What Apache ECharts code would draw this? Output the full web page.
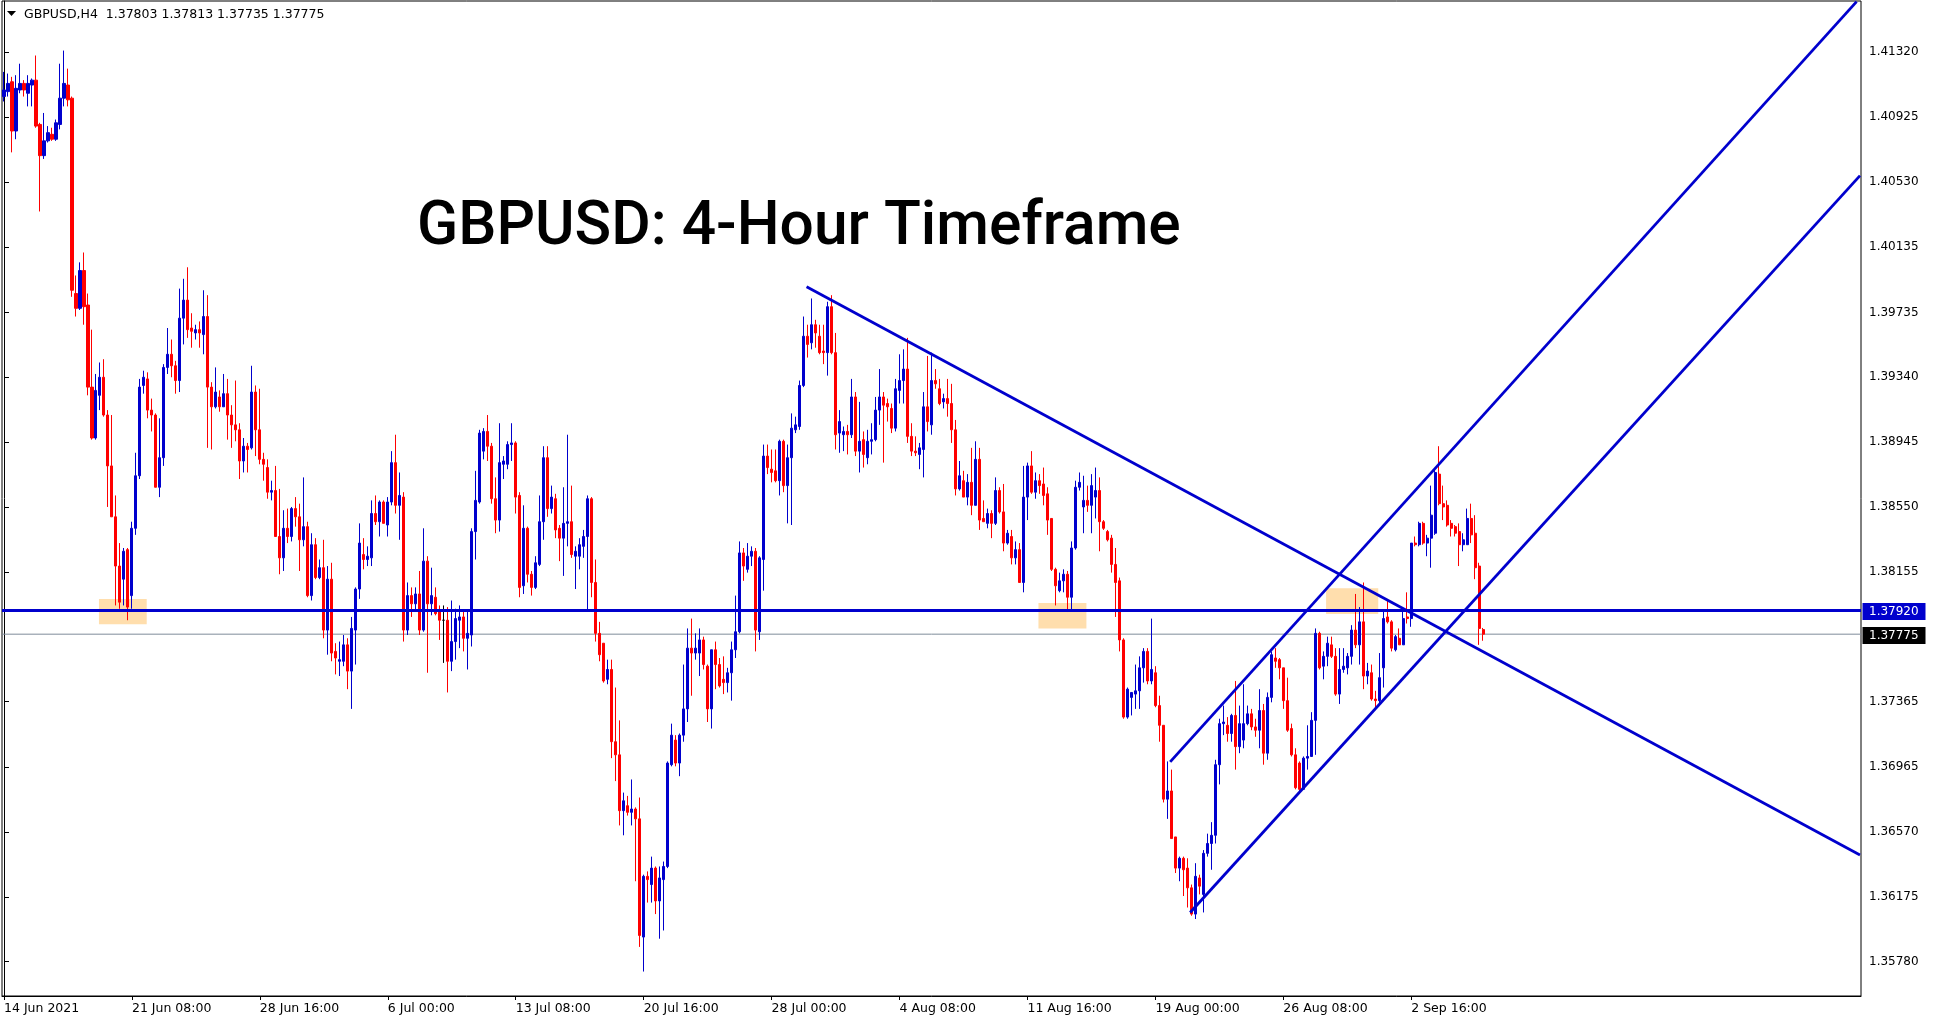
<!DOCTYPE html>
<html><head><meta charset="utf-8">
<script src="https://cdn.jsdelivr.net/npm/echarts@6/dist/echarts.min.js"></script>
<style>html,body{margin:0;padding:0;background:#fff;overflow:hidden}#c{width:1933px;height:1023px}</style>
</head><body><div id="c"></div>
<script>
// ---- candle data: [open, close, low, high], H4 bars, one array per trading week ----
const week1 = [[1.4105,1.4109,1.4102,1.4120],[1.4108,1.4113,1.4105,1.4119],[1.4114,1.4084,1.4071,1.4117],[1.4084,1.4110,1.4079,1.4118],[1.4109,1.4113,1.4107,1.4125],[1.4113,1.4109,1.4105,1.4115],
[1.4107,1.4113,1.4099,1.4118],[1.4112,1.4115,1.4099,1.4116],[1.4115,1.4087,1.4086,1.4130],[1.4088,1.4069,1.4035,1.4089],[1.4069,1.4078,1.4067,1.4095],[1.4078,1.4083,1.4077,1.4087],
[1.4082,1.4079,1.4078,1.4086],[1.4079,1.4089,1.4078,1.4091],[1.4088,1.4104,1.4085,1.4125],[1.4104,1.4113,1.4099,1.4133],[1.4112,1.4103,1.4099,1.4122],[1.4104,1.3987,1.3983,1.4105],
[1.3985,1.3976,1.3971,1.3996],[1.3976,1.3999,1.3975,1.4004],[1.3999,1.3977,1.3966,1.4010],[1.3978,1.3928,1.3923,1.3985],[1.3928,1.3897,1.3896,1.3963],[1.3897,1.3926,1.3896,1.3936],
[1.3923,1.3934,1.3914,1.3943],[1.3934,1.3911,1.3910,1.3945],[1.3911,1.3880,1.3855,1.3914],[1.3880,1.3849,1.3849,1.3911],[1.3849,1.3819,1.3795,1.3862],[1.3819,1.3797,1.3793,1.3833]];
const week2 = [[1.3811,1.3828,1.3795,1.3830],[1.3829,1.3794,1.3786,1.3830],[1.3801,1.3842,1.3793,1.3846],[1.3842,1.3874,1.3838,1.3888],[1.3874,1.3928,1.3872,1.3933],[1.3929,1.3934,1.3924,1.3938],
[1.3933,1.3914,1.3909,1.3937],[1.3914,1.3911,1.3901,1.3921],[1.3911,1.3867,1.3867,1.3912],[1.3867,1.3885,1.3861,1.3909],[1.3885,1.3940,1.3880,1.3942],[1.3940,1.3948,1.3936,1.3964],
[1.3948,1.3941,1.3934,1.3957],[1.3941,1.3932,1.3924,1.3944],[1.3932,1.3970,1.3925,1.3988],[1.3970,1.3981,1.3954,1.3994],[1.3981,1.3963,1.3958,1.4001],[1.3964,1.3962,1.3952,1.3973],
[1.3961,1.3963,1.3957,1.3966],[1.3963,1.3961,1.3952,1.3968],[1.3960,1.3971,1.3948,1.3987],[1.3971,1.3928,1.3891,1.3984],[1.3928,1.3916,1.3890,1.3931],[1.3916,1.3925,1.3915,1.3940],
[1.3922,1.3916,1.3913,1.3926],[1.3916,1.3924,1.3916,1.3936],[1.3924,1.3911,1.3896,1.3933],[1.3911,1.3905,1.3891,1.3917],[1.3905,1.3902,1.3895,1.3932],[1.3902,1.3883,1.3872,1.3906]];
const week3 = [[1.3883,1.3892,1.3876,1.3897],[1.3892,1.3890,1.3876,1.3894],[1.3891,1.3925,1.3890,1.3941],[1.3925,1.3902,1.3886,1.3929],[1.3902,1.3884,1.3881,1.3927],[1.3884,1.3881,1.3871,1.3888],
[1.3879,1.3864,1.3860,1.3884],[1.3864,1.3865,1.3859,1.3871],[1.3865,1.3837,1.3837,1.3880],[1.3837,1.3824,1.3814,1.3866],[1.3824,1.3842,1.3816,1.3853],[1.3842,1.3837,1.3833,1.3854],
[1.3837,1.3854,1.3834,1.3855],[1.3854,1.3849,1.3843,1.3861],[1.3849,1.3835,1.3816,1.3857],[1.3835,1.3843,1.3831,1.3873],[1.3843,1.3801,1.3800,1.3846],[1.3801,1.3832,1.3798,1.3839],
[1.3832,1.3812,1.3811,1.3836],[1.3812,1.3818,1.3811,1.3823],[1.3818,1.3780,1.3775,1.3835],[1.3780,1.3811,1.3765,1.3819],[1.3811,1.3766,1.3761,1.3821],[1.3767,1.3763,1.3753,1.3772],
[1.3761,1.3762,1.3752,1.3773],[1.3761,1.3771,1.3758,1.3777],[1.3771,1.3755,1.3744,1.3775],[1.3755,1.3781,1.3732,1.3788],[1.3780,1.3805,1.3759,1.3806],[1.3805,1.3833,1.3799,1.3845]];
const week4 = [[1.3826,1.3823,1.3817,1.3836],[1.3823,1.3825,1.3819,1.3831],[1.3824,1.3851,1.3819,1.3859],[1.3851,1.3846,1.3844,1.3862],[1.3846,1.3858,1.3837,1.3859],[1.3858,1.3845,1.3845,1.3859],
[1.3844,1.3858,1.3837,1.3861],[1.3858,1.3882,1.3856,1.3889],[1.3882,1.3856,1.3851,1.3899],[1.3856,1.3862,1.3835,1.3876],[1.3861,1.3780,1.3773,1.3864],[1.3780,1.3801,1.3777,1.3809],
[1.3801,1.3796,1.3788,1.3806],[1.3796,1.3802,1.3792,1.3806],[1.3802,1.3780,1.3777,1.3816],[1.3780,1.3822,1.3779,1.3842],[1.3822,1.3796,1.3754,1.3825],[1.3796,1.3801,1.3789,1.3818],
[1.3800,1.3790,1.3789,1.3806],[1.3791,1.3786,1.3774,1.3795],[1.3786,1.3786,1.3760,1.3795],[1.3786,1.3761,1.3742,1.3794],[1.3761,1.3773,1.3755,1.3798],[1.3773,1.3787,1.3762,1.3793],
[1.3786,1.3788,1.3769,1.3795],[1.3788,1.3775,1.3767,1.3791],[1.3775,1.3778,1.3756,1.3791],[1.3777,1.3840,1.3770,1.3842],[1.3840,1.3859,1.3823,1.3877],[1.3858,1.3900,1.3857,1.3902]];
const week5 = [[1.3889,1.3901,1.3884,1.3903],[1.3901,1.3892,1.3883,1.3911],[1.3892,1.3860,1.3857,1.3894],[1.3860,1.3847,1.3839,1.3873],[1.3847,1.3882,1.3840,1.3906],[1.3881,1.3883,1.3872,1.3886],
[1.3881,1.3893,1.3878,1.3895],[1.3893,1.3894,1.3883,1.3906],[1.3894,1.3861,1.3851,1.3895],[1.3862,1.3806,1.3800,1.3864],[1.3807,1.3842,1.3802,1.3856],[1.3842,1.3814,1.3809,1.3843],
[1.3814,1.3806,1.3801,1.3816],[1.3806,1.3821,1.3805,1.3825],[1.3820,1.3846,1.3819,1.3862],[1.3846,1.3885,1.3835,1.3892],[1.3885,1.3854,1.3849,1.3892],[1.3854,1.3861,1.3851,1.3868],
[1.3860,1.3841,1.3836,1.3863],[1.3842,1.3836,1.3822,1.3844],[1.3836,1.3845,1.3813,1.3867],[1.3845,1.3846,1.3831,1.3899],[1.3846,1.3826,1.3824,1.3868],[1.3825,1.3828,1.3805,1.3831],
[1.3825,1.3832,1.3817,1.3836],[1.3831,1.3837,1.3824,1.3841],[1.3837,1.3860,1.3792,1.3862],[1.3860,1.3809,1.3800,1.3861],[1.3809,1.3778,1.3773,1.3823],[1.3778,1.3765,1.3761,1.3785]];
const week6 = [[1.3772,1.3749,1.3748,1.3772],[1.3750,1.3756,1.3747,1.3762],[1.3756,1.3712,1.3702,1.3762],[1.3712,1.3704,1.3688,1.3745],[1.3704,1.3670,1.3661,1.3725],[1.3670,1.3676,1.3655,1.3681],
[1.3673,1.3669,1.3667,1.3679],[1.3669,1.3671,1.3661,1.3689],[1.3671,1.3665,1.3627,1.3672],[1.3665,1.3594,1.3587,1.3678],[1.3593,1.3630,1.3572,1.3631],[1.3630,1.3628,1.3614,1.3633],
[1.3625,1.3635,1.3614,1.3642],[1.3635,1.3615,1.3607,1.3636],[1.3615,1.3629,1.3592,1.3636],[1.3628,1.3636,1.3597,1.3639],[1.3636,1.3699,1.3635,1.3700],[1.3698,1.3716,1.3697,1.3723],
[1.3713,1.3699,1.3697,1.3716],[1.3699,1.3716,1.3691,1.3717],[1.3716,1.3732,1.3712,1.3759],[1.3732,1.3769,1.3724,1.3781],[1.3769,1.3766,1.3740,1.3787],[1.3766,1.3769,1.3762,1.3778],
[1.3766,1.3774,1.3752,1.3781],[1.3774,1.3759,1.3756,1.3776],[1.3758,1.3732,1.3724,1.3759],[1.3732,1.3768,1.3720,1.3768],[1.3768,1.3759,1.3744,1.3773],[1.3759,1.3746,1.3745,1.3763]];
const week7 = [[1.3750,1.3748,1.3741,1.3764],[1.3748,1.3754,1.3742,1.3757],[1.3754,1.3768,1.3737,1.3773],[1.3768,1.3779,1.3763,1.3801],[1.3779,1.3827,1.3778,1.3834],[1.3827,1.3819,1.3810,1.3830],
[1.3817,1.3825,1.3815,1.3833],[1.3825,1.3828,1.3819,1.3831],[1.3828,1.3780,1.3767,1.3830],[1.3779,1.3824,1.3774,1.3825],[1.3823,1.3886,1.3804,1.3893],[1.3886,1.3879,1.3875,1.3893],
[1.3878,1.3876,1.3870,1.3890],[1.3877,1.3871,1.3870,1.3890],[1.3871,1.3895,1.3862,1.3896],[1.3895,1.3868,1.3864,1.3896],[1.3868,1.3885,1.3845,1.3893],[1.3885,1.3903,1.3844,1.3912],
[1.3902,1.3905,1.3900,1.3910],[1.3904,1.3929,1.3902,1.3932],[1.3929,1.3959,1.3928,1.3971],[1.3959,1.3954,1.3946,1.3966],[1.3955,1.3966,1.3951,1.3982],[1.3966,1.3961,1.3952,1.3969],
[1.3959,1.3949,1.3948,1.3966],[1.3950,1.3949,1.3942,1.3966],[1.3949,1.3977,1.3935,1.3980],[1.3977,1.3949,1.3948,1.3984],[1.3949,1.3899,1.3890,1.3961],[1.3900,1.3907,1.3888,1.3914]];
const week8 = [[1.3899,1.3901,1.3889,1.3904],[1.3901,1.3899,1.3887,1.3905],[1.3899,1.3922,1.3897,1.3933],[1.3922,1.3889,1.3886,1.3925],[1.3889,1.3895,1.3876,1.3919],[1.3896,1.3887,1.3879,1.3901],
[1.3885,1.3895,1.3881,1.3902],[1.3895,1.3896,1.3887,1.3906],[1.3896,1.3914,1.3895,1.3922],[1.3914,1.3922,1.3905,1.3939],[1.3922,1.3917,1.3882,1.3925],[1.3918,1.3916,1.3907,1.3921],
[1.3915,1.3903,1.3900,1.3918],[1.3903,1.3927,1.3901,1.3933],[1.3926,1.3932,1.3918,1.3948],[1.3932,1.3939,1.3918,1.3951],[1.3939,1.3898,1.3894,1.3958],[1.3898,1.3889,1.3886,1.3906],
[1.3889,1.3888,1.3886,1.3898],[1.3887,1.3891,1.3878,1.3894],[1.3890,1.3916,1.3873,1.3925],[1.3916,1.3907,1.3901,1.3947],[1.3905,1.3932,1.3899,1.3949],[1.3932,1.3930,1.3927,1.3939],
[1.3927,1.3918,1.3917,1.3933],[1.3919,1.3921,1.3915,1.3924],[1.3921,1.3918,1.3910,1.3933],[1.3918,1.3902,1.3894,1.3930],[1.3902,1.3866,1.3862,1.3908],[1.3866,1.3874,1.3865,1.3883]];
const week9 = [[1.3871,1.3861,1.3861,1.3877],[1.3861,1.3870,1.3856,1.3875],[1.3870,1.3856,1.3850,1.3891],[1.3856,1.3884,1.3856,1.3895],[1.3884,1.3847,1.3841,1.3891],[1.3848,1.3846,1.3846,1.3859],
[1.3845,1.3851,1.3842,1.3854],[1.3851,1.3845,1.3836,1.3853],[1.3845,1.3865,1.3844,1.3873],[1.3865,1.3852,1.3851,1.3867],[1.3852,1.3833,1.3828,1.3869],[1.3833,1.3839,1.3832,1.3841],
[1.3837,1.3824,1.3820,1.3841],[1.3824,1.3829,1.3820,1.3834],[1.3829,1.3809,1.3809,1.3833],[1.3809,1.3861,1.3803,1.3880],[1.3861,1.3880,1.3847,1.3882],[1.3880,1.3864,1.3863,1.3889],
[1.3864,1.3871,1.3860,1.3876],[1.3871,1.3868,1.3863,1.3875],[1.3869,1.3862,1.3856,1.3879],[1.3863,1.3847,1.3838,1.3867],[1.3848,1.3817,1.3816,1.3848],[1.3817,1.3807,1.3795,1.3818],
[1.3804,1.3810,1.3803,1.3815],[1.3810,1.3814,1.3803,1.3817],[1.3814,1.3800,1.3791,1.3816],[1.3800,1.3830,1.3792,1.3834],[1.3830,1.3867,1.3829,1.3871],[1.3867,1.3870,1.3865,1.3876]];
const week10 = [[1.3855,1.3859,1.3839,1.3874],[1.3859,1.3856,1.3852,1.3868],[1.3856,1.3868,1.3839,1.3875],[1.3861,1.3865,1.3848,1.3879],[1.3865,1.3846,1.3828,1.3873],[1.3846,1.3842,1.3841,1.3847],
[1.3840,1.3835,1.3834,1.3841],[1.3836,1.3820,1.3815,1.3838],[1.3820,1.3809,1.3788,1.3830],[1.3810,1.3774,1.3767,1.3812],[1.3774,1.3727,1.3726,1.3775],[1.3727,1.3744,1.3726,1.3745],
[1.3739,1.3742,1.3728,1.3742],[1.3741,1.3743,1.3732,1.3759],[1.3743,1.3757,1.3732,1.3764],[1.3757,1.3767,1.3748,1.3769],[1.3767,1.3749,1.3747,1.3769],[1.3749,1.3756,1.3747,1.3787],
[1.3754,1.3734,1.3733,1.3758],[1.3734,1.3722,1.3712,1.3740],[1.3722,1.3677,1.3675,1.3722],[1.3677,1.3682,1.3665,1.3700],[1.3682,1.3653,1.3653,1.3695],[1.3654,1.3635,1.3632,1.3654],
[1.3635,1.3641,1.3627,1.3642],[1.3641,1.3634,1.3618,1.3642],[1.3635,1.3623,1.3611,1.3641],[1.3623,1.3607,1.3606,1.3625],[1.3607,1.3630,1.3604,1.3638],[1.3629,1.3624,1.3619,1.3631]];
const week11 = [[1.3619,1.3644,1.3608,1.3646],[1.3644,1.3650,1.3642,1.3656],[1.3650,1.3655,1.3634,1.3663],[1.3655,1.3698,1.3650,1.3701],[1.3698,1.3723,1.3686,1.3726],[1.3723,1.3724,1.3716,1.3734],
[1.3722,1.3717,1.3712,1.3727],[1.3717,1.3728,1.3712,1.3729],[1.3728,1.3709,1.3695,1.3749],[1.3709,1.3723,1.3705,1.3734],[1.3713,1.3723,1.3708,1.3747],[1.3723,1.3729,1.3722,1.3734],
[1.3729,1.3721,1.3719,1.3732],[1.3721,1.3719,1.3715,1.3726],[1.3719,1.3731,1.3708,1.3744],[1.3731,1.3705,1.3698,1.3735],[1.3705,1.3739,1.3701,1.3742],[1.3739,1.3765,1.3736,1.3767],
[1.3763,1.3761,1.3757,1.3769],[1.3762,1.3757,1.3750,1.3763],[1.3757,1.3737,1.3732,1.3757],[1.3737,1.3719,1.3718,1.3751],[1.3720,1.3704,1.3703,1.3723],[1.3704,1.3684,1.3683,1.3708],
[1.3699,1.3683,1.3682,1.3700],[1.3683,1.3702,1.3683,1.3703],[1.3702,1.3703,1.3695,1.3722],[1.3703,1.3725,1.3703,1.3730],[1.3725,1.3778,1.3704,1.3781],[1.3778,1.3757,1.3756,1.3779]];
const week12 = [[1.3758,1.3764,1.3750,1.3767],[1.3764,1.3772,1.3758,1.3776],[1.3771,1.3764,1.3763,1.3776],[1.3764,1.3741,1.3740,1.3769],[1.3741,1.3756,1.3735,1.3769],[1.3756,1.3758,1.3754,1.3769],
[1.3757,1.3764,1.3753,1.3766],[1.3764,1.3780,1.3759,1.3783],[1.3780,1.3771,1.3769,1.3802],[1.3771,1.3785,1.3759,1.3794],[1.3785,1.3752,1.3744,1.3809],[1.3752,1.3755,1.3747,1.3760],
[1.3754,1.3738,1.3737,1.3759],[1.3738,1.3737,1.3732,1.3743],[1.3737,1.3751,1.3735,1.3766],[1.3757,1.3787,1.3745,1.3792],[1.3788,1.3785,1.3784,1.3798],[1.3785,1.3769,1.3767,1.3786],
[1.3768,1.3776,1.3767,1.3777],[1.3775,1.3771,1.3771,1.3781],[1.3771,1.3787,1.3771,1.3792],[1.3788,1.3787,1.3784,1.3803],[1.3787,1.3833,1.3782,1.3833],[1.3833,1.3832,1.3831,1.3837],
[1.3832,1.3845,1.3831,1.3846],[1.3845,1.3833,1.3832,1.3846],[1.3833,1.3836,1.3825,1.3838],[1.3836,1.3850,1.3818,1.3868],[1.3839,1.3876,1.3838,1.3878],[1.3875,1.3857,1.3856,1.3892]];
const week13 = [[1.3857,1.3855,1.3847,1.3868],[1.3856,1.3844,1.3843,1.3859],[1.3845,1.3842,1.3837,1.3847],[1.3843,1.3839,1.3837,1.3844],[1.3840,1.3832,1.3819,1.3845],[1.3832,1.3835,1.3828,1.3839],
[1.3832,1.3848,1.3832,1.3854],[1.3848,1.3838,1.3833,1.3857],[1.3839,1.3818,1.3811,1.3850],[1.3819,1.3781,1.3771,1.3821],[1.37803,1.37775,1.37735,1.37813]];

// ---- axis ticks / labels ----
const xTickBars   = [0, 32, 64, 96, 128, 160, 192, 224, 256, 288, 320, 352];
const xTickLabels = ['14 Jun 2021','21 Jun 08:00','28 Jun 16:00','6 Jul 00:00','13 Jul 08:00','20 Jul 16:00',
                     '28 Jul 00:00','4 Aug 08:00','11 Aug 16:00','19 Aug 00:00','26 Aug 08:00','2 Sep 16:00'];
const yTickValues = [1.41320,1.40925,1.40530,1.40135,1.39735,1.39340,1.38945,1.38550,1.38155,1.37365,1.36965,1.36570,1.36175,1.35780];

// ---- drawn objects (bar index, price) ----
const supportLevel = 1.37920;
const lastPrice = 1.37775;
const trendLines = [[200.75,1.39892,464.25,1.36430],[296.7,1.36080,464.25,1.40568],[291.7,1.36997,463.4,1.41628]];
const zones = [[23.75,1.37990,35.7,1.37835],[258.75,1.37965,270.75,1.37810],[330.7,1.38055,343.75,1.37898]];
const headerText = 'GBPUSD,H4  1.37803 1.37813 1.37735 1.37775';
const titleText = 'GBPUSD: 4-Hour Timeframe';

const SLOTS = 465;            // visible bar slots incl. right shift
const Y_MIN = 1.35571, Y_MAX = 1.41632;
const BULL = '#0000CD', BEAR = '#FF0000', LINE = '#0000CD';
const AXFONT = 'DejaVu Sans';

const candles = [].concat(week1,week2,week3,week4,week5,week6,week7,week8,week9,week10,week11,week12,week13);
const candleData = candles.map(c => c[0] === c[1]
  ? {value: c, itemStyle: {color:'#000', color0:'#000', borderColor:'#000', borderColor0:'#000'}}
  : c);
const categories = [];
for (let i = 0; i < SLOTS; i++) categories.push(String(i));
const labelOf = {};
xTickBars.forEach((b, k) => { labelOf[b] = xTickLabels[k]; });
const isTick = (i) => labelOf[i] !== undefined;

const chart = echarts.init(document.getElementById('c'), null, {renderer: 'canvas'});

const series = [
  {
    type: 'custom', xAxisIndex: 1, yAxisIndex: 0, z: 1, silent: true,
    data: zones,
    encode: {x: [0, 2], y: [1, 3]},
    renderItem: function (params, api) {
      const p1 = api.coord([api.value(0), api.value(1)]);
      const p2 = api.coord([api.value(2), api.value(3)]);
      return {type: 'rect', shape: {x: p1[0], y: p1[1], width: p2[0] - p1[0], height: p2[1] - p1[1]},
              style: {fill: 'rgb(255,222,173)'}};
    }
  },
  {
    type: 'line', xAxisIndex: 1, yAxisIndex: 0, z: 2, silent: true, symbol: 'none',
    data: [[-0.5, lastPrice], [SLOTS - 0.5, lastPrice]],
    lineStyle: {color: '#7F8C9A', width: 1}
  },
  {
    type: 'candlestick', xAxisIndex: 0, yAxisIndex: 0, z: 3, silent: true,
    data: candleData, barWidth: 2.6,
    itemStyle: {color: BULL, color0: BEAR, borderColor: BULL, borderColor0: BEAR, borderWidth: 1}
  },
  {
    type: 'line', xAxisIndex: 1, yAxisIndex: 0, z: 4, silent: true, symbol: 'none',
    data: [[-0.5, supportLevel], [SLOTS - 0.5, supportLevel]],
    lineStyle: {color: LINE, width: 3}
  }
];
trendLines.forEach(t => series.push({
  type: 'line', xAxisIndex: 1, yAxisIndex: 0, z: 4, silent: true, symbol: 'none', clip: true,
  data: [[t[0], t[1]], [t[2], t[3]]],
  lineStyle: {color: LINE, width: 2.8}
}));

chart.setOption({
  animation: false,
  backgroundColor: '#fff',
  grid: {left: 2, right: 72, top: 1, bottom: 27, show: true, borderColor: '#000', borderWidth: 1, backgroundColor: '#fff'},
  xAxis: [
    {
      type: 'category', data: categories, boundaryGap: true,
      axisLine: {show: true, lineStyle: {color: '#000', width: 1}},
      axisTick: {show: true, alignWithLabel: true, interval: (i) => isTick(i), length: 4, lineStyle: {color: '#000'}},
      axisLabel: {show: true, interval: (i) => isTick(i), formatter: (v) => labelOf[Number(v)] || '',
                  align: 'left', color: '#000', fontFamily: AXFONT, fontSize: 12.5, margin: 6},
      splitLine: {show: false}
    },
    {type: 'value', min: -0.5, max: SLOTS - 0.5, show: false}
  ],
  yAxis: {
    type: 'value', position: 'right', min: Y_MIN, max: Y_MAX, scale: true,
    axisLine: {show: true, lineStyle: {color: '#000', width: 1}},
    axisTick: {show: true, customValues: yTickValues, length: 5, lineStyle: {color: '#000'}},
    axisLabel: {show: true, customValues: yTickValues, formatter: (v) => Number(v).toFixed(5),
                color: '#000', fontFamily: AXFONT, fontSize: 12, margin: 8},
    splitLine: {show: false}
  },
  series: series
});

function priceTag(val, bg) {
  const y = chart.convertToPixel({yAxisIndex: 0}, val);
  const x0 = chart.convertToPixel({xAxisIndex: 1}, SLOTS - 0.5);
  return [
    {type: 'rect', z: 10, shape: {x: x0 + 1.5, y: Math.round(y) - 7, width: 63, height: 17}, style: {fill: bg}},
    {type: 'text', z: 11, x: x0 + 8, y: Math.round(y) + 1.5,
     style: {text: val.toFixed(5), fill: '#fff', font: '12px "DejaVu Sans"', verticalAlign: 'middle', align: 'left'}}
  ];
}

chart.setOption({
  graphic: [].concat(
    priceTag(supportLevel, LINE),
    priceTag(lastPrice, '#000'),
    [
      {type: 'polygon', z: 10, shape: {points: [[7, 11], [16, 11], [11.5, 16]]}, style: {fill: '#000'}},
      {type: 'text', z: 10, x: 24, y: 14.5,
       style: {text: headerText, fill: '#000', font: '12.5px "DejaVu Sans"', verticalAlign: 'middle', align: 'left'}},
      {type: 'text', z: 10, x: 417, y: 229,
       style: {text: titleText, fill: '#000', font: '500 60.5px Roboto', verticalAlign: 'middle', align: 'left'}}
    ]
  )
});
</script>
</body></html>
